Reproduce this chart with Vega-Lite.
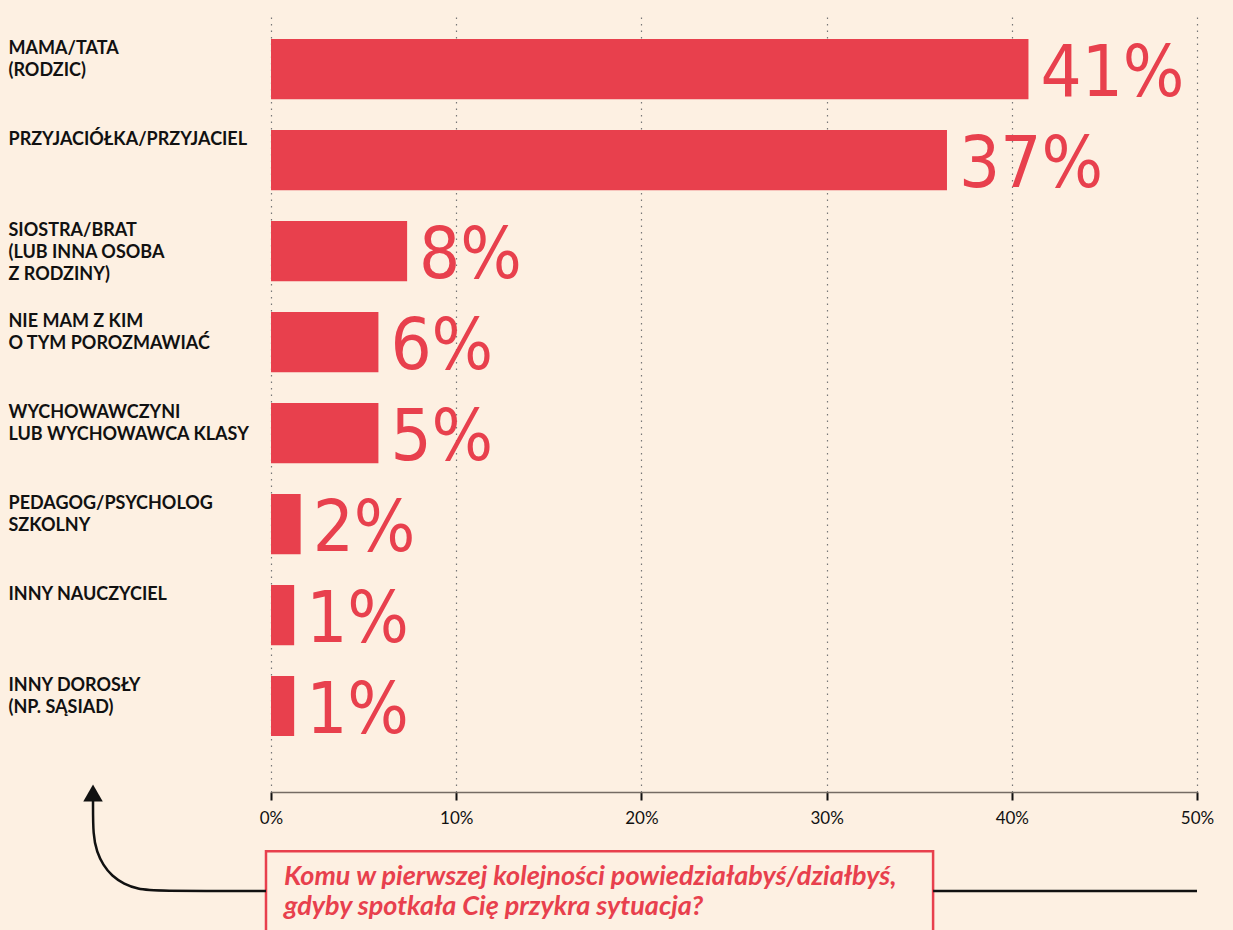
{
  "$schema": "https://vega.github.io/schema/vega-lite/v6.json",
  "width": 926,
  "height": 778,
  "autosize": "none",
  "padding": {"left": 271, "top": 14, "right": 36, "bottom": 138},
  "background": "#FDF0E2",
  "config": {"view": {"stroke": null}, "font": "Lato"},
  "datasets": {
    "responses": [
      {"answer": "MAMA/TATA|(RODZIC)", "share": 40.9, "label": "41%"},
      {"answer": "PRZYJACIÓŁKA/PRZYJACIEL", "share": 36.5, "label": "37%"},
      {"answer": "SIOSTRA/BRAT|(LUB INNA OSOBA|Z RODZINY)", "share": 7.35, "label": "8%"},
      {"answer": "NIE MAM Z KIM|O TYM POROZMAWIAĆ", "share": 5.8, "label": "6%"},
      {"answer": "WYCHOWAWCZYNI|LUB WYCHOWAWCA KLASY", "share": 5.8, "label": "5%"},
      {"answer": "PEDAGOG/PSYCHOLOG|SZKOLNY", "share": 1.6, "label": "2%"},
      {"answer": "INNY NAUCZYCIEL", "share": 1.25, "label": "1%"},
      {"answer": "INNY DOROSŁY|(NP. SĄSIAD)", "share": 1.25, "label": "1%"}
    ],
    "arrow": [
      {"step": 1, "x": -0.27, "y": -12.72},
      {"step": 2, "x": -6.37, "y": -12.72},
      {"step": 3, "x": -7.18, "y": -12.47},
      {"step": 4, "x": -7.94, "y": -11.83},
      {"step": 5, "x": -8.59, "y": -10.8},
      {"step": 6, "x": -9.07, "y": -9.38},
      {"step": 7, "x": -9.4, "y": -7.71},
      {"step": 8, "x": -9.61, "y": -5.66},
      {"step": 9, "x": -9.61, "y": -1.03}
    ],
    "arrowhead": [{"x": -9.61, "y": -0.13}],
    "connector": [{"x": 35.75, "x2": 50, "y": -12.72}],
    "box": [{"x": -0.27, "x2": 35.75, "y": -7.6, "y2": -21}],
    "question": [
      {"x": 0.7, "y": -11.95, "text": "Komu w pierwszej kolejności powiedziałabyś/działbyś,"},
      {"x": 0.7, "y": -15.85, "text": "gdyby spotkała Cię przykra sytuacja?"}
    ]
  },
  "layer": [
    {
      "data": {"name": "responses"},
      "encoding": {
        "y": {
          "field": "answer",
          "type": "nominal",
          "sort": null,
          "scale": {"paddingInner": 0.34, "paddingOuter": 0.445, "align": 0.31},
          "axis": {
            "title": null,
            "orient": "left",
            "domain": false,
            "ticks": false,
            "tickSize": 0,
            "labelAlign": "left",
            "labelBaseline": "top",
            "labelPadding": 263,
            "labelOffset": -29,
            "labelFont": "Lato",
            "labelFontWeight": "bold",
            "labelFontSize": 18,
            "labelColor": "#111111",
            "labelLineHeight": 22,
            "labelLimit": 0,
            "labelExpr": "split(datum.label, '|')"
          }
        }
      },
      "layer": [
        {
          "mark": {"type": "bar", "color": "#E8404D"},
          "encoding": {
            "x": {
              "field": "share",
              "type": "quantitative",
              "scale": {"domain": [0, 50], "nice": false},
              "axis": {
                "title": null,
                "values": [0, 10, 20, 30, 40, 50],
                "labelExpr": "datum.value + '%'",
                "grid": true,
                "gridDash": [1.5, 5],
                "gridColor": "#777777",
                "gridWidth": 1.2,
                "domainColor": "#756b63",
                "domainWidth": 1.5,
                "tickColor": "#111111",
                "tickWidth": 2,
                "tickSize": 8,
                "labelPadding": 10,
                "labelFont": "Lato",
                "labelFontSize": 17,
                "labelColor": "#111111",
                "labelFlush": false
              }
            }
          }
        },
        {
          "mark": {"type": "text", "align": "left", "baseline": "alphabetic", "dx": 12, "dy": 27, "font": "DejaVu Sans Condensed", "fontSize": 72, "color": "#E8404D"},
          "encoding": {
            "x": {"field": "share", "type": "quantitative"},
            "text": {"field": "label"}
          }
        }
      ]
    },
    {
      "encoding": {
        "y": {"type": "quantitative", "scale": {"domain": [0, 100], "nice": false, "zero": false}, "axis": null}
      },
      "layer": [
        {
          "data": {"name": "box"},
          "mark": {"type": "rect", "fill": null, "stroke": "#E8404D", "strokeWidth": 2.5},
          "encoding": {
            "x": {"field": "x", "type": "quantitative"},
            "x2": {"field": "x2"},
            "y": {"field": "y", "type": "quantitative"},
            "y2": {"field": "y2"}
          }
        },
        {
          "data": {"name": "arrow"},
          "mark": {"type": "line", "color": "#111111", "strokeWidth": 2.5, "interpolate": "basis"},
          "encoding": {
            "x": {"field": "x", "type": "quantitative"},
            "y": {"field": "y", "type": "quantitative"},
            "order": {"field": "step"}
          }
        },
        {
          "data": {"name": "arrowhead"},
          "mark": {"type": "point", "shape": "triangle-up", "size": 380, "filled": true, "color": "#111111", "opacity": 1},
          "encoding": {
            "x": {"field": "x", "type": "quantitative"},
            "y": {"field": "y", "type": "quantitative"}
          }
        },
        {
          "data": {"name": "connector"},
          "mark": {"type": "rule", "color": "#111111", "strokeWidth": 2.5},
          "encoding": {
            "x": {"field": "x", "type": "quantitative"},
            "x2": {"field": "x2"},
            "y": {"field": "y", "type": "quantitative"}
          }
        },
        {
          "data": {"name": "question"},
          "mark": {"type": "text", "align": "left", "baseline": "alphabetic", "font": "Lato", "fontStyle": "italic", "fontWeight": "bold", "fontSize": 27, "color": "#E8404D"},
          "encoding": {
            "x": {"field": "x", "type": "quantitative"},
            "y": {"field": "y", "type": "quantitative"},
            "text": {"field": "text"}
          }
        }
      ]
    }
  ],
  "resolve": {"scale": {"y": "independent"}, "axis": {"y": "independent"}}
}
